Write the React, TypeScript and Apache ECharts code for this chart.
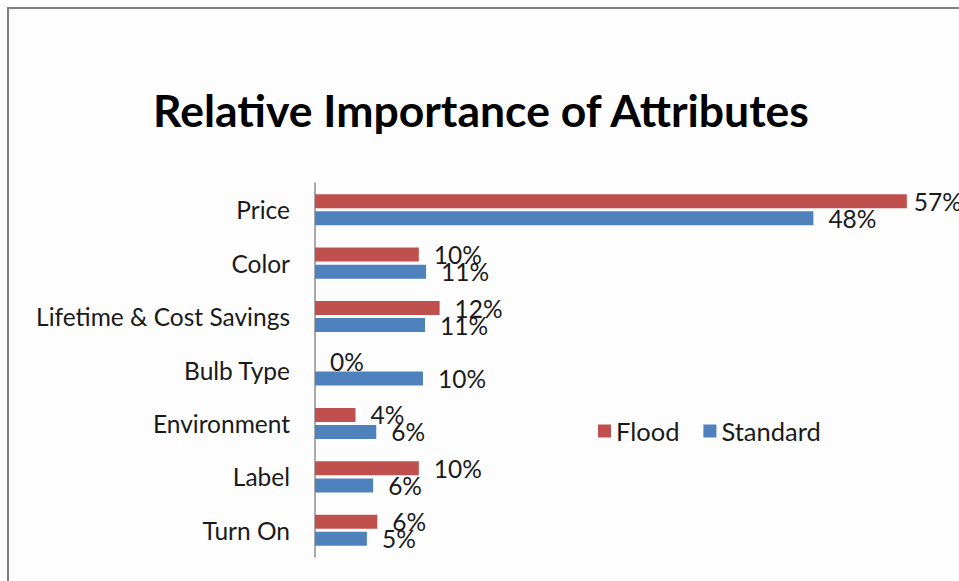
import React, { useEffect, useRef } from "react";
import * as echarts from "echarts";

const categories = [
  "Price",
  "Color",
  "Lifetime & Cost Savings",
  "Bulb Type",
  "Environment",
  "Label",
  "Turn On",
];
const floodValues = [57.0, 10.0, 12.0, 0, 3.9, 10.0, 6.0];
const standardValues = [48.0, 10.7, 10.6, 10.4, 5.9, 5.6, 5.0];
const seriesNames = ["Flood", "Standard"];
const titleText = "Relative Importance of Attributes";

const FONT = "Lato, Carlito, 'Open Sans', sans-serif";

export default function App() {
  const ref = useRef<HTMLDivElement>(null);
  useEffect(() => {
    if (!ref.current) return;
    const chart = echarts.init(ref.current, undefined, { renderer: "svg" });
    const labelCfg = {
      show: true,
      position: "right",
      distance: 15,
      fontFamily: FONT,
      fontSize: 24.5,
      color: "#1a1a1a",
      formatter: (p: any) => Math.round(p.value) + "%",
    };
    chart.setOption({
      animation: false,
      backgroundColor: "#fdfdfd",
      textStyle: { fontFamily: FONT },
      title: {
        text: titleText,
        left: 476,
        textAlign: "center",
        top: 82,
        textStyle: {
          fontFamily: FONT,
          fontSize: 44.5,
          fontWeight: "bold",
          color: "#000",
        },
      },
      graphic: [
        {
          type: "rect",
          shape: { x: 8, y: 8, width: 1200, height: 1200 },
          style: { fill: "none", stroke: "#808080", lineWidth: 2 },
          silent: true,
        },
      ],
      legend: {
        left: 593,
        top: 413,
        icon: "rect",
        itemWidth: 13,
        itemHeight: 13,
        itemGap: 24,
        textStyle: { fontFamily: FONT, fontSize: 25.5, color: "#1a1a1a" },
        data: seriesNames,
      },
      grid: { left: 315, top: 183, width: 623, height: 374 },
      xAxis: {
        type: "value",
        min: 0,
        max: 60,
        show: false,
      },
      yAxis: {
        type: "category",
        data: categories,
        inverse: true,
        axisLine: { show: true, lineStyle: { color: "#8c8c8c", width: 1.5 } },
        axisTick: { show: false },
        axisLabel: {
          margin: 25,
          fontFamily: FONT,
          fontSize: 24.5,
          color: "#1a1a1a",
        },
      },
      series: [
        {
          name: seriesNames[0],
          type: "bar",
          data: floodValues.map((v, i) =>
            i === 0 ? { value: v, label: { distance: 7 } } : v
          ),
          barWidth: 14,
          barGap: "22%",
          itemStyle: { color: "#C0504D" },
          label: labelCfg,
        },
        {
          name: seriesNames[1],
          type: "bar",
          data: standardValues,
          barWidth: 14,
          barGap: "22%",
          itemStyle: { color: "#4F81BD" },
          label: labelCfg,
        },
      ],
    });
    return () => chart.dispose();
  }, []);
  return (
    <div
      ref={ref}
      style={{ position: "fixed", left: 0, top: 0, width: 959, height: 581 }}
    />
  );
}
